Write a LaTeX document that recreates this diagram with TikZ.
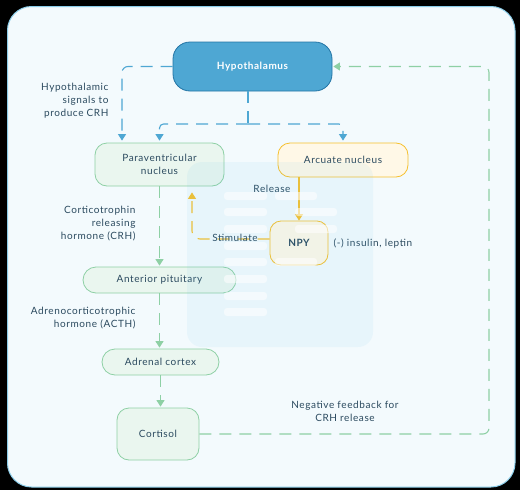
\documentclass[tikz,border=0pt]{standalone}
\usepackage{fontspec}
\setmainfont{Lato}[LetterSpace=6]
\definecolor{frame}{HTML}{8BCDE9}
\definecolor{paper}{HTML}{F3FAFD}
\definecolor{hypofill}{HTML}{4EA7D3}
\definecolor{hypoline}{HTML}{2274A5}
\definecolor{greenline}{HTML}{8ED0A5}
\definecolor{greenfill}{HTML}{EAF6EF}
\definecolor{yelline}{HTML}{F6C02E}
\definecolor{yelfill}{HTML}{FFF8E7}
\definecolor{ink}{HTML}{2B4A5F}
\definecolor{wmark}{HTML}{5BC0EB}
\usetikzlibrary{arrows.meta,positioning,calc}

\begin{document}
\begin{tikzpicture}[x=1pt,y=-1pt,
    font=\fontsize{10}{13}\selectfont,text=ink,
    box/.style={draw,line width=0.8pt,rounded corners=12pt,inner sep=0pt,align=center},
    greenbox/.style={box,draw=greenline,fill=greenfill},
    yelbox/.style={box,draw=yelline,fill=yelfill},
    tip/.style={-{Triangle[width=8pt,length=6.5pt]}},
    dashline/.style={line width=1.1pt,dash pattern=on 12pt off 8pt},
    lbl/.style={align=right,anchor=east}]
  % page and frame
  \fill[black] (0,0) rectangle (520,490);
  \useasboundingbox (0,0) rectangle (520,490);
  \draw[frame,fill=paper,line width=1pt,rounded corners=24pt] (7.5,6.5) rectangle (515,487);

  % nodes
  \node[box,draw=hypoline,fill=hypofill,rounded corners=17pt,minimum width=159pt,minimum height=49pt,
        text=white,font=\fontsize{10}{13}\selectfont\bfseries] (hypo) at (252.5,66.5) {Hypothalamus};
  \node[greenbox,minimum width=129pt,minimum height=43pt] (pvn) at (159.5,164.5) {Paraventricular\\nucleus};
  \node[yelbox,minimum width=130pt,minimum height=34pt] (arc) at (343,160) {Arcuate nucleus};
  \node[yelbox,rounded corners=11pt,minimum width=58pt,minimum height=44pt,font=\fontsize{10}{13}\selectfont\bfseries] (npy) at (299,243) {NPY};
  \node[greenbox,rounded corners=13pt,minimum width=153pt,minimum height=26pt] (ant) at (159.5,280) {Anterior pituitary};
  \node[greenbox,rounded corners=13pt,minimum width=117pt,minimum height=26pt] (adr) at (160.5,362) {Adrenal cortex};
  \node[greenbox,minimum width=82pt,minimum height=52pt] (cort) at (158,434) {Cortisol};

  % hypothalamus outputs
  \coordinate (split) at (248,124);
  \coordinate (fb) at (489,250);
  \draw[hypofill,dashline,tip,rounded corners=6pt,shorten >=2pt] (hypo.west) -| ([xshift=-37.5pt]pvn.north);
  \draw[hypofill,dashline] ([xshift=-4.5pt]hypo.south) -- (split);
  \draw[hypofill,dashline,tip,rounded corners=4pt,shorten >=2pt] (split) -| (pvn.north);
  \draw[hypofill,dashline,tip,rounded corners=4pt,shorten >=2pt] (split) -| (arc.north);

  % arcuate / NPY loop
  \draw[yelline,line width=1.1pt,tip] (npy.north |- arc.south) -- (npy.north);
  \draw[yelline,dashline,tip,rounded corners=8pt,shorten >=6pt] ([yshift=4pt]npy.west) -| ([xshift=32.5pt]pvn.south);

  % HPA axis
  \draw[greenline,dashline,tip,shorten >=1pt] (pvn.south) -- (ant.north);
  \draw[greenline,dashline,tip,shorten >=1pt] (ant.south) -- (ant.south |- adr.north);
  \draw[greenline,dashline,tip,shorten >=1pt] (adr.south) -- (adr.south |- cort.north);
  \draw[greenline,dashline,tip,rounded corners=6pt,shorten >=1pt] (cort.east) -| (fb) |- (hypo.east);

  % labels
  \node[lbl] (sig) at (112,101) {Hypothalamic\\signals to\\produce CRH};
  \node[lbl] (crh) at (139,224) {Corticotrophin\\releasing\\hormone (CRH)};
  \node[lbl] (acth) at (139,318.5) {Adrenocorticotrophic\\hormone (ACTH)};
  \node (rel) at (272,189) {Release};
  \node (stim) at (235,238) {Stimulate};
  \node[anchor=west] (ins) at (330,243) {(-) insulin, leptin};
  \node[align=center] (neg) at (345,411) {Negative feedback for\\CRH release};

  % faint watermark
  \fill[wmark,opacity=0.08,rounded corners=15pt] (187,162) rectangle (373,347);
  \foreach \y in {196,212,229,246,262,279,296,312}
    \fill[white,opacity=0.55,rounded corners=3pt] (224,\y-4) rectangle (267,\y+4);
  \foreach \xa/\y in {275/196,295/212,295/229,275/262}
    \fill[white,opacity=0.55,rounded corners=3pt] (\xa,\y-4) rectangle (\xa+42,\y+4);
\end{tikzpicture}
\end{document}
